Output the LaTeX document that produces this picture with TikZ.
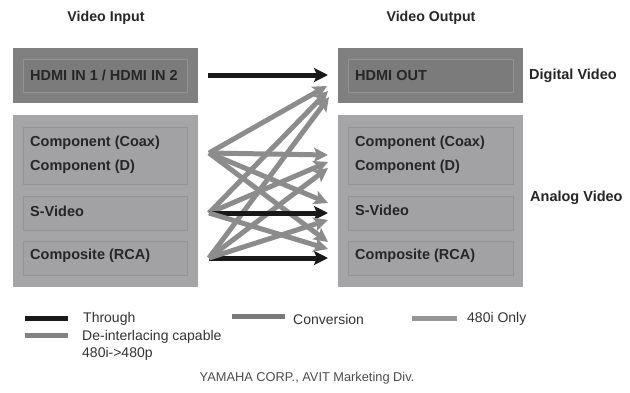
\documentclass[tikz,border=0pt]{standalone}
\usepackage{fontspec}
\setmainfont{Liberation Sans}
\usetikzlibrary{arrows.meta}
\definecolor{darkbox}{HTML}{808080}
\definecolor{darkinner}{HTML}{7B7B7B}
\definecolor{lightbox}{HTML}{A5A5A7}
\definecolor{lightinner}{HTML}{A2A2A4}
\definecolor{innerline}{HTML}{939393}
\definecolor{linegray}{HTML}{8C8C8C}
\definecolor{txt}{HTML}{262626}
\definecolor{legtxt}{HTML}{333333}
\definecolor{conv}{HTML}{7A7A7A}
\definecolor{only}{HTML}{969696}
\definecolor{deint}{HTML}{828282}
\begin{document}
\begin{tikzpicture}[x=1pt,y=-1pt,
  box/.style={rectangle, inner sep=0, outer sep=0},
  darkouter/.style={box, fill=darkbox},
  darkin/.style={box, fill=darkinner, draw=innerline, line width=0.7pt},
  lightouter/.style={box, fill=lightbox},
  lightin/.style={box, fill=lightinner, draw=innerline, line width=0.7pt},
  lbl/.style={anchor=west, inner sep=0, text=txt, font=\fontsize{14.5}{16}\selectfont\bfseries},
  title/.style={inner sep=0, text=txt, font=\fontsize{14.2}{16}\selectfont\bfseries},
  legend/.style={anchor=west, inner sep=0, text=legtxt, font=\fontsize{14}{16}\selectfont},
  thru/.style={draw=black!90, line width=5pt, -{Stealth[length=14pt,width=14pt,inset=3pt]}},
  grayarr/.style={draw=linegray, line width=5pt, -{Stealth[length=14pt,width=14pt,inset=3pt]}},
  bar/.style={line width=5pt}
]
\useasboundingbox (0,0) rectangle (630,392);
\fill[white] (0,0) rectangle (630,392);

% titles
\node[title] (tin) at (106,18) {Video Input};
\node[title] (tout) at (431,18) {Video Output};

% left boxes
\node[darkouter, minimum width=185pt, minimum height=55pt] (lhdmi) at (105.5,75.5) {};
\node[darkin, minimum width=164pt, minimum height=33pt] (lhdmii) at (105,75.5) {};
\node[lbl] (lhdmit) at (30,75.5) {HDMI IN 1 / HDMI IN 2};

\node[lightouter, minimum width=185pt, minimum height=172pt] (lana) at (105.5,201) {};
\node[lightin, minimum width=164pt, minimum height=57pt] (lcomp) at (105,155.5) {};
\node[lightin, minimum width=164pt, minimum height=34pt] (lsv) at (105,213) {};
\node[lightin, minimum width=164pt, minimum height=34pt] (lcps) at (105,258) {};
\node[lbl] (lcompa) at (30,143) {Component (Coax)};
\node[lbl] (lcompb) at (30,167) {Component (D)};
\node[lbl] (lsvt) at (30,211) {S-Video};
\node[lbl] (lcpst) at (30,256) {Composite (RCA)};

% right boxes
\node[darkouter, minimum width=185pt, minimum height=55pt] (rhdmi) at (430.5,75.5) {};
\node[darkin, minimum width=165pt, minimum height=33pt] (rhdmii) at (430.5,75.5) {};
\node[lbl] (rhdmit) at (355,75.5) {HDMI OUT};

\node[lightouter, minimum width=185pt, minimum height=172pt] (rana) at (430.5,201) {};
\node[lightin, minimum width=165pt, minimum height=57pt] (rcomp) at (430.5,155.5) {};
\node[lightin, minimum width=165pt, minimum height=34pt] (rsv) at (430.5,213) {};
\node[lightin, minimum width=165pt, minimum height=34pt] (rcps) at (430.5,258) {};
\node[lbl] (rcompa) at (355,143) {Component (Coax)};
\node[lbl] (rcompb) at (355,167) {Component (D)};
\node[lbl] (rsvt) at (355,210) {S-Video};
\node[lbl] (rcpst) at (355,256) {Composite (RCA)};

\node[lbl] (dig) at (529,76) {Digital Video};
\node[lbl] (ana) at (530,198) {Analog Video};

% connector end points
\coordinate (sH) at (208,75);
\coordinate (sC) at (209,153);
\coordinate (sS) at (209,213);
\coordinate (sP) at (209,258);
\coordinate (tH) at (328,75);
\coordinate (tHC) at (327,86);
\coordinate (tHS) at (328,91);
\coordinate (tHP) at (329,97);
\coordinate (tCC) at (328,155);
\coordinate (tCS) at (328,162);
\coordinate (tCP) at (328,168);
\coordinate (tSC) at (328,203);
\coordinate (tSS) at (328,213);
\coordinate (tSP) at (328,220);
\coordinate (tPC) at (328,242);
\coordinate (tPS) at (328,249);
\coordinate (tPP) at (328,258);

% connectors
\draw[grayarr] (sC) -- (tHC);
\draw[grayarr] (sS) -- (tHS);
\draw[grayarr] (sP) -- (tHP);
\draw[grayarr] (sC) -- (tCC);
\draw[grayarr] (sS) -- (tCS);
\draw[grayarr] (sP) -- (tCP);
\draw[grayarr] (sC) -- (tSC);
\draw[grayarr] (sC) -- (tPC);
\draw[thru] (sS) -- (tSS);
\draw[thru] (sP) -- (tPP);
\draw[grayarr] (sP) -- (tSP);
\draw[grayarr] (sS) -- (tPS);
\draw[thru] (sH) -- (tH);

% legend
\draw[bar, draw=black!90] (25,318) -- (68,318);
\node[legend] (lg1) at (83,319) {Through};
\draw[bar, draw=conv] (232,316) -- (285,316);
\node[legend] (lg2) at (293,319) {Conversion};
\draw[bar, draw=only] (412,318) -- (457,318);
\node[legend] (lg3) at (467,319) {480i Only};
\draw[bar, draw=deint] (25,335) -- (68,335);
\node[legend] (lg4) at (82,337) {De-interlacing capable};
\node[legend] (lg5) at (82,354) {480i->480p};

\node[inner sep=0, text=black!70, font=\fontsize{12.8}{15}\selectfont] (credit) at (307,378) {YAMAHA CORP., AVIT Marketing Div.};
\end{tikzpicture}
\end{document}
